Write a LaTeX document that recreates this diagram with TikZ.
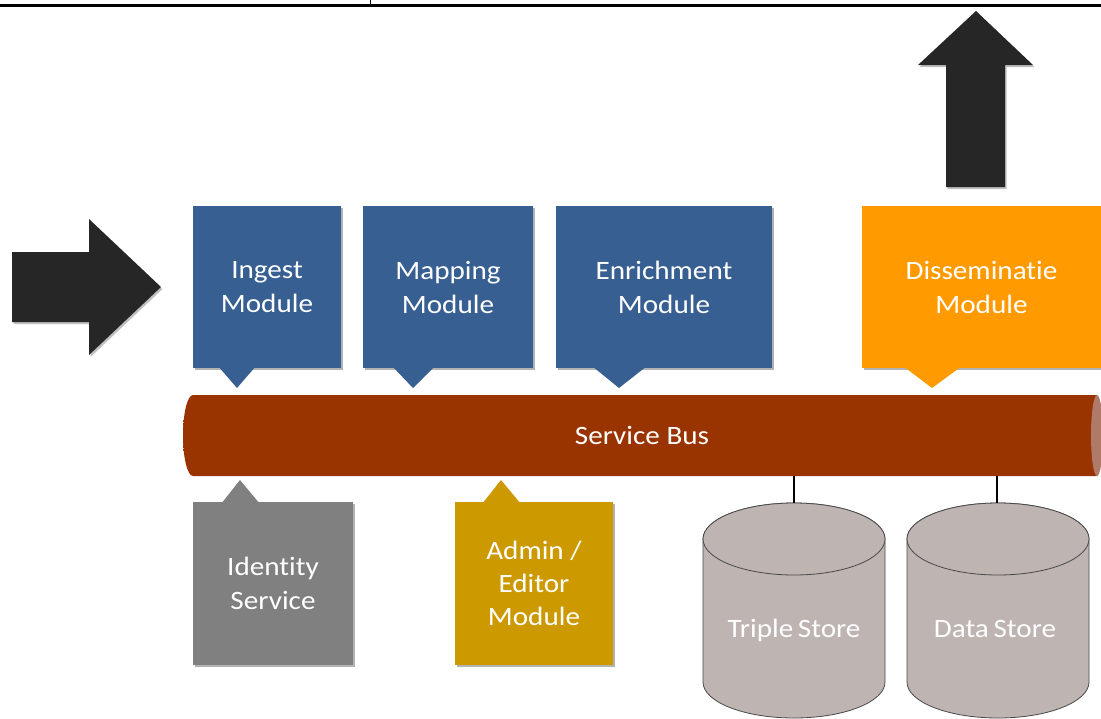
\documentclass[tikz,border=0pt]{standalone}
\usepackage{fontspec}
\setmainfont{Carlito}[FakeStretch=1.1, RawFeature=-liga]
\usetikzlibrary{shadows}

\definecolor{modblue}{HTML}{375F91}
\definecolor{modorange}{HTML}{FF9A00}
\definecolor{modgray}{HTML}{808080}
\definecolor{modgold}{HTML}{CC9900}
\definecolor{busmid}{HTML}{993300}
\definecolor{busdark}{HTML}{5A1E00}
\definecolor{busend}{HTML}{B07A68}
\definecolor{storefill}{HTML}{BEB4B1}
\definecolor{storeline}{HTML}{4A4A4A}
\definecolor{arrowfill}{HTML}{262626}

% bus tube: dark rims at top and bottom, flat colour in between
\pgfdeclareverticalshading{busshade}{100bp}{%
  color(0bp)=(busdark); color(16bp)=(busmid); color(84bp)=(busmid); color(100bp)=(busdark)}

\tikzset{
  module/.style={rectangle, inner sep=0pt, outer sep=0pt, text=white, align=center,
    font=\fontsize{26.5}{34}\selectfont,
    drop shadow={shadow xshift=1.5pt, shadow yshift=-2pt, opacity=0.3, fill=black}},
  txt/.style={text=white, inner sep=0pt, font=\fontsize{26.5}{34}\selectfont},
  store/.style={fill=storefill, draw=storeline, line width=0.8pt},
  link/.style={draw=black, line width=2.4pt},
  bigarrow/.style={fill=arrowfill,
    drop shadow={shadow xshift=1.5pt, shadow yshift=-2pt, opacity=0.25, fill=black}},
}

\begin{document}
\begin{tikzpicture}[x=1pt, y=-1pt]
\useasboundingbox (0,0) rectangle (1101,718);
\fill[white] (0,0) rectangle (1101,718);

% header rule
\draw[line width=3pt] (0,5) -- (1101,5);
\draw[line width=0.8pt] (370,0) -- (370,5);

% input and output arrows
\path[bigarrow] (12,252) -- (89,252) -- (89,219) -- (161,287) -- (89,355) -- (89,322) -- (12,322) -- cycle;
\path[bigarrow] (946,187) -- (946,65) -- (918,65) -- (976,11) -- (1033,65) -- (1005,65) -- (1005,187) -- cycle;

% service bus
\shade[shading=busshade] (1097,395) -- (193,395)
  arc[start angle=270, end angle=90, x radius=10, y radius=40.5] -- (1097,476) -- cycle;
\fill[busend] (1097,435.5) ellipse[x radius=6, y radius=40.5];
\node[txt, minimum width=918pt, minimum height=81pt] (bus) at (642,435.5) {Service Bus};

% modules above the bus
\node[module, fill=modblue, minimum width=148pt, minimum height=162pt] (ingest) at (267,287) {Ingest\\Module};
\fill[modblue] (218,366) -- (256,366) -- (237,388) -- cycle;

\node[module, fill=modblue, minimum width=170pt, minimum height=162pt] (mapping) at (448,287) {Mapping\\Module};
\fill[modblue] (392,366) -- (435,366) -- (413,388) -- cycle;

\node[module, fill=modblue, minimum width=216pt, minimum height=162pt] (enrich) at (664,287) {Enrichment\\Module};
\fill[modblue] (592,366) -- (647,366) -- (619,388) -- cycle;

\node[module, fill=modorange, minimum width=239pt, minimum height=162pt] (dissem) at (981.5,287) {Disseminatie\\Module};
\fill[modorange] (903,366) -- (962,366) -- (932,388) -- cycle;

% services below the bus
\node[module, fill=modgray, minimum width=160pt, minimum height=163pt] (identity) at (273,583.5) {Identity\\Service};
\fill[modgray] (221,504) -- (260,504) -- (240,480) -- cycle;

\node[module, fill=modgold, minimum width=158pt, minimum height=163pt, font=\fontsize{26.5}{33}\selectfont] (admin) at (534,583.5) {Admin /\\Editor\\Module};
\fill[modgold] (482,504) -- (521,504) -- (501,480) -- cycle;

% storage cylinders
\path[store] (703,539) -- (703,682)
  arc[start angle=180, end angle=0, x radius=91, y radius=36] -- (885,539)
  arc[start angle=0, end angle=-180, x radius=91, y radius=36] -- cycle;
\draw[store] (794,539) ellipse[x radius=91, y radius=36];
\coordinate (tstoretop) at (794,503);
\node[txt, anchor=base] (tstore) at (794,637) {Triple\hspace{-2pt} Store};

\path[store] (907,539) -- (907,682)
  arc[start angle=180, end angle=0, x radius=91, y radius=36] -- (1089,539)
  arc[start angle=0, end angle=-180, x radius=91, y radius=36] -- cycle;
\draw[store] (998,539) ellipse[x radius=91, y radius=36];
\coordinate (dstoretop) at (997,503);
\node[txt, anchor=base] (dstore) at (995,637) {Data\hspace{-2pt} Store};

% store connections to the bus
\draw[link] (bus.south -| tstoretop) -- (tstoretop);
\draw[link] (bus.south -| dstoretop) -- (dstoretop);
\end{tikzpicture}
\end{document}
